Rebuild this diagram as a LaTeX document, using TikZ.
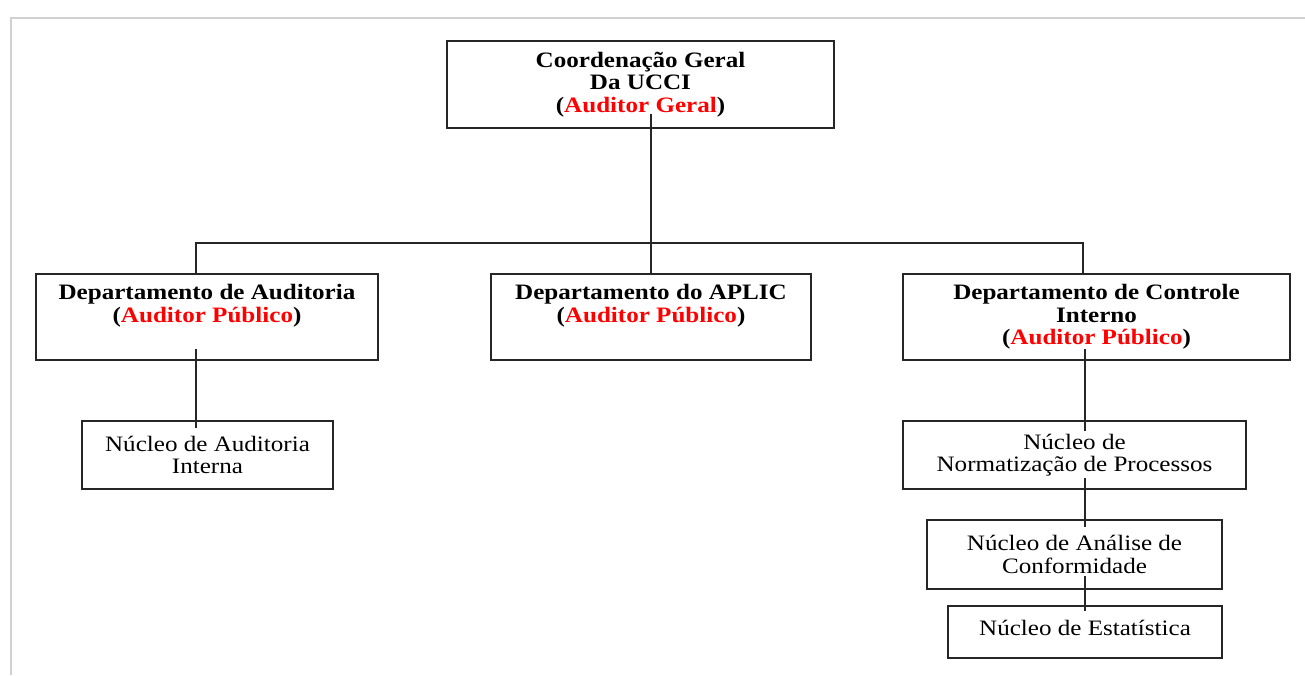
\documentclass[tikz,border=0pt]{standalone}
\usepackage{fontspec}
\setmainfont[FakeStretch=1.14]{Liberation Serif}
\usetikzlibrary{positioning}
\tikzset{
  box/.style={draw=black!85, line width=1.7pt, inner sep=0pt, align=center,
    font=\fontsize{22}{22.5}\selectfont},
  boldbox/.style={box, font=\fontsize{22}{22.5}\selectfont\bfseries},
  deptext/.style={inner sep=0pt, align=center, font=\fontsize{22}{22.5}\selectfont\bfseries},
  link/.style={draw=black!85, line width=1.7pt},
  frame/.style={draw=black!18, line width=2pt}
}
\newcommand{\chefe}[1]{(\textcolor{red}{#1})}

\begin{document}
\begin{tikzpicture}[x=1pt, y=-1pt]
  \useasboundingbox (0,0) rectangle (1305,675);
  % page frame
  \draw[frame] (11,675) -- (11,18) -- (1305,18);

  % top box
  \node[boldbox, minimum width=387, minimum height=87] (coord) at (640.5,84.5)
    {Coordenação Geral\\Da UCCI\\\chefe{Auditor Geral}};

  % departments
  \node[box, minimum width=342, minimum height=86] (dAud) at (207,317) {};
  \node[box, minimum width=320, minimum height=86] (dApl) at (651,317) {};
  \node[box, minimum width=387, minimum height=86] (dCtl) at (1096.5,317) {};
  \node[deptext, below=11pt of dAud.north] (tAud) {Departamento de Auditoria\\\chefe{Auditor Público}};
  \node[deptext, below=11pt of dApl.north] (tApl) {Departamento do APLIC\\\chefe{Auditor Público}};
  \node[deptext, below=11pt of dCtl.north] (tCtl) {Departamento de Controle\\Interno\\\chefe{Auditor Público}};

  % nucleos
  \node[box, minimum width=251, minimum height=68] (nAud) at (207.5,455) {Núcleo de Auditoria\\Interna};
  \node[box, minimum width=343, minimum height=68] (nNor) at (1074.5,455) {Núcleo de\\Normatização de Processos};
  \node[box, minimum width=295, minimum height=69] (nAna) at (1074.5,554.5) {Núcleo de Análise de\\Conformidade};
  \node[box, minimum width=274, minimum height=52, text depth=9pt] (nEst) at (1085,632) {Núcleo de Estatística};

  % bar ends
  \coordinate (barL) at (196,243);
  \coordinate (barR) at (1083,243);

  % coord to departments
  \draw[link] ([yshift=15pt]coord.south -| dApl.north) -- (dApl.north);
  \draw[link] (dAud.north -| barL) -- (barL) -- (barR) -- (dCtl.north -| barR);
  % dAud to nAud
  \draw[link] ([yshift=12pt]dAud.south -| barL) -- ([yshift=-8pt]nAud.north -| barL);
  % dCtl to nNor
  \draw[link] ([yshift=12pt]dCtl.south -| nEst.north) -- ([yshift=-11pt]nNor.north -| nEst.north);
  % nNor to nAna
  \draw[link] ([yshift=12pt]nNor.south -| nEst.north) -- ([yshift=-8pt]nAna.north -| nEst.north);
  % nAna to nEst
  \draw[link] ([yshift=14pt]nAna.south -| nEst.north) -- ([yshift=-6pt]nEst.north);
\end{tikzpicture}
\end{document}
